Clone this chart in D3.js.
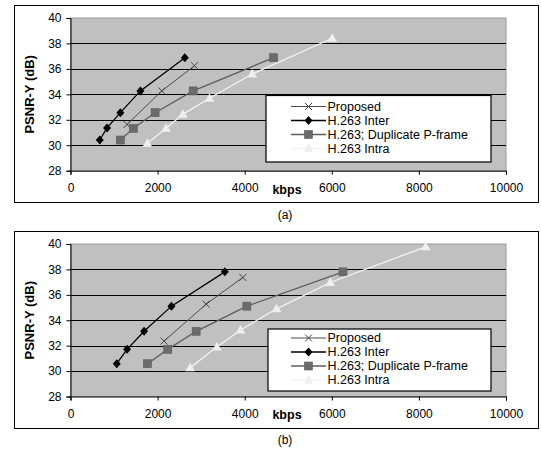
<!DOCTYPE html>
<html>
<head>
<meta charset="utf-8">
<script src="https://cdn.jsdelivr.net/npm/d3@7"></script>
<style>
  body { margin: 0; background: #fff; }
  text { font-family: "Liberation Sans", Arial, sans-serif; font-size: 12px; fill: #000; }
</style>
</head>
<body>
<svg id="viz" width="541" height="452"></svg>
<script>
var width = 541;
var height = 452;

var xTicks = [0, 2000, 4000, 6000, 8000, 10000];
var yTicks = [28, 30, 32, 34, 36, 38, 40];
var seriesNames = ["Proposed", "H.263 Inter", "H.263; Duplicate P-frame", "H.263 Intra"];
var captions = ["(a)", "(b)"];

// chart (a): [kbps, PSNR-Y]
var proposedA = [[1299, 31.63], [2096, 34.27], [2847, 36.25]];
var interA = [[671, 30.41], [839, 31.36], [1145, 32.56], [1605, 34.27], [2625, 36.88]];
var duplicateA = [[1145, 30.41], [1444, 31.33], [1943, 32.56], [2816, 34.27], [4662, 36.88]];
var intraA = [[1766, 30.15], [2195, 31.33], [2579, 32.43], [3191, 33.69], [4172, 35.6], [6011, 38.41]];

// chart (b)
var proposedB = [[2149, 32.36], [3115, 35.27], [3958, 37.37]];
var interB = [[1062, 30.58], [1299, 31.71], [1690, 33.13], [2318, 35.11], [3544, 37.81]];
var duplicateB = [[1766, 30.58], [2234, 31.71], [2885, 33.13], [4050, 35.11], [6257, 37.81]];
var intraB = [[2747, 30.27], [3361, 31.89], [3904, 33.23], [4731, 34.9], [5966, 36.97], [8156, 39.78]];

// one style per series, same order as seriesNames
var styles = [
  { line: "#4a4a4a", lw: 1, marker: "x" },
  { line: "#000000", lw: 1.3, marker: "diamond" },
  { line: "#5e5e5e", lw: 1.3, marker: "square" },
  { line: "#f4f4f4", lw: 1.3, marker: "triangle" }
];

var svg = d3.select("#viz");

function drawMarker(g, type) {
  if (type == "x") {
    g.append("path").attr("d", "M-3.5,-3.5L3.5,3.5M-3.5,3.5L3.5,-3.5")
      .attr("stroke", "#444").attr("stroke-width", 1).attr("fill", "none");
  } else if (type == "diamond") {
    g.append("path").attr("d", "M0,-4.5L4,0L0,4.5L-4,0Z").attr("fill", "#000");
  } else if (type == "square") {
    g.append("rect").attr("x", -4).attr("y", -4).attr("width", 8).attr("height", 8)
      .attr("fill", "#6b6b6b").attr("stroke", "#5c5c5c").attr("stroke-width", 0.6);
  } else {
    g.append("path").attr("d", "M0,-5L4.8,3.5L-4.8,3.5Z").attr("fill", "#efefef");
  }
}

function drawChart(cfg) {
  var x = d3.scaleLinear().domain([0, 10000]).range([70.5, 506]);
  var y = d3.scaleLinear().domain([28, 40]).range([cfg.plotBottom, cfg.plotTop]);

  // outer frame
  svg.append("rect")
    .attr("x", 14.5).attr("y", cfg.frameTop)
    .attr("width", 524).attr("height", cfg.frameBottom - cfg.frameTop)
    .attr("fill", "#fff").attr("stroke", "#000").attr("stroke-width", 1);

  // plot area
  svg.append("rect")
    .attr("x", x(0)).attr("y", y(40))
    .attr("width", x(10000) - x(0)).attr("height", y(28) - y(40))
    .attr("fill", "#c0c0c0").attr("stroke", "#9a9a9a").attr("stroke-width", 1);

  // gridlines
  svg.append("g").selectAll("line")
    .data(yTicks.filter(function(d) { return d > 28 && d < 40; }))
    .enter().append("line")
    .attr("x1", x(0)).attr("x2", x(10000))
    .attr("y1", function(d) { return Math.round(y(d)) + 0.5; })
    .attr("y2", function(d) { return Math.round(y(d)) + 0.5; })
    .attr("stroke", "#000").attr("stroke-width", 1);

  var yAxis = d3.axisLeft(y).tickValues(yTicks).tickFormat(d3.format("d")).tickSize(4).tickPadding(5);
  var gy = svg.append("g").attr("transform", "translate(" + x(0) + ",0)").call(yAxis);
  gy.select(".domain").attr("stroke", "#000");
  gy.selectAll("text").style("font-size", "12px").attr("font-family", "Liberation Sans, Arial, sans-serif");

  var xAxis = d3.axisBottom(x).tickValues(xTicks).tickFormat(d3.format("d")).tickSize(4).tickPadding(9);
  var gx = svg.append("g").attr("transform", "translate(0," + y(28) + ")").call(xAxis);
  gx.select(".domain").attr("stroke", "#000");
  gx.selectAll("text").style("font-size", "12px").attr("font-family", "Liberation Sans, Arial, sans-serif");

  svg.append("text")
    .attr("x", 287).attr("y", y(28) + 18.6).attr("dy", "0.35em")
    .attr("text-anchor", "middle")
    .style("font-weight", "bold").style("font-size", "12.5px")
    .text("kbps");

  svg.append("text")
    .attr("transform", "translate(29.5," + (y(28) + y(40)) / 2 + ") rotate(-90)")
    .attr("dy", "0.35em")
    .attr("text-anchor", "middle")
    .style("font-weight", "bold").style("font-size", "13px")
    .text("PSNR-Y (dB)");

  // series
  var line = d3.line()
    .x(function(d) { return x(d[0]); })
    .y(function(d) { return y(d[1]); });

  cfg.series.forEach(function(data, i) {
    svg.append("path")
      .datum(data)
      .attr("d", line)
      .attr("fill", "none")
      .attr("stroke", styles[i].line)
      .attr("stroke-width", styles[i].lw);
    data.forEach(function(d) {
      var g = svg.append("g").attr("transform", "translate(" + x(d[0]) + "," + y(d[1]) + ")");
      drawMarker(g, styles[i].marker);
    });
  });

  // legend
  svg.append("rect")
    .attr("x", cfg.legendLeft).attr("y", cfg.legendTop)
    .attr("width", 491 - cfg.legendLeft).attr("height", cfg.legendBottom - cfg.legendTop)
    .attr("fill", "#fff").attr("stroke", "#000").attr("stroke-width", 1.2);

  seriesNames.forEach(function(name, i) {
    var ry = cfg.legendTop + cfg.rowStart + i * 14;
    svg.append("line")
      .attr("x1", 291).attr("x2", 326).attr("y1", ry).attr("y2", ry)
      .attr("stroke", styles[i].line).attr("stroke-width", styles[i].lw);
    var g = svg.append("g").attr("transform", "translate(308.5," + ry + ")");
    drawMarker(g, styles[i].marker);
    svg.append("text")
      .attr("x", 327.5).attr("y", ry).attr("dy", "0.35em")
      .style("font-size", "12.5px")
      .text(name);
  });

  svg.append("text")
    .attr("x", 285).attr("y", cfg.captionY).attr("dy", "0.35em")
    .attr("text-anchor", "middle")
    .text(cfg.caption);
}

drawChart({
  frameTop: 5.5, frameBottom: 202.5,
  plotTop: 18, plotBottom: 170.7,
  legendLeft: 266, legendTop: 95.5, legendBottom: 162,
  rowStart: 11,
  caption: captions[0], captionY: 215,
  series: [proposedA, interA, duplicateA, intraA]
});

drawChart({
  frameTop: 231.5, frameBottom: 428.5,
  plotTop: 244, plotBottom: 396.5,
  legendLeft: 268, legendTop: 329, legendBottom: 391,
  rowStart: 9,
  caption: captions[1], captionY: 440,
  series: [proposedB, interB, duplicateB, intraB]
});
</script>
</body>
</html>
